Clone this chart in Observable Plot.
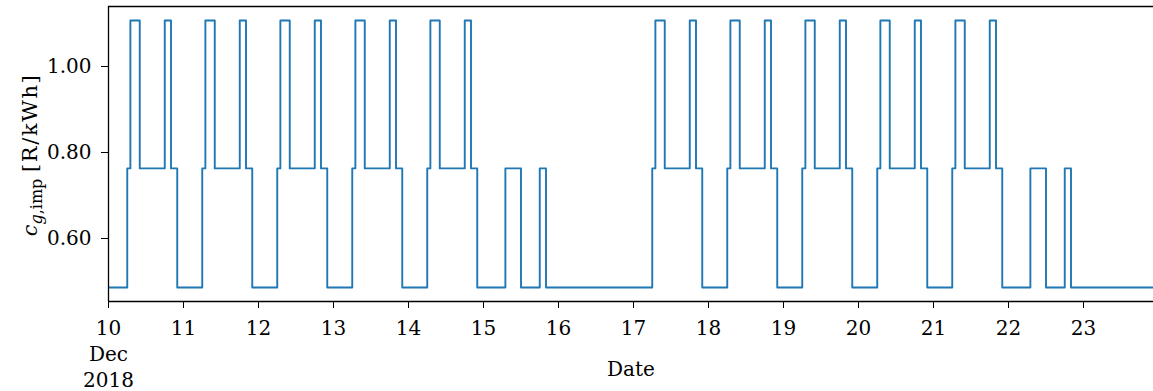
<!DOCTYPE html>
<html><head><meta charset="utf-8">
<script src="https://cdn.jsdelivr.net/npm/d3@7"></script>
<script src="https://cdn.jsdelivr.net/npm/@observablehq/plot@0.6"></script>
<style>body{margin:0;background:#fff;overflow:hidden} svg{display:block}</style>
</head><body><div id="chart"></div>
<script>
// Tariff change points (UTC hours) and the import tariff that applies from each point on [R/kWh]
const changeTimes = [
  "2018-12-10T00:00","2018-12-10T06:00","2018-12-10T07:00","2018-12-10T10:00","2018-12-10T18:00","2018-12-10T20:00","2018-12-10T22:00",
  "2018-12-11T06:00","2018-12-11T07:00","2018-12-11T10:00","2018-12-11T18:00","2018-12-11T20:00","2018-12-11T22:00",
  "2018-12-12T06:00","2018-12-12T07:00","2018-12-12T10:00","2018-12-12T18:00","2018-12-12T20:00","2018-12-12T22:00",
  "2018-12-13T06:00","2018-12-13T07:00","2018-12-13T10:00","2018-12-13T18:00","2018-12-13T20:00","2018-12-13T22:00",
  "2018-12-14T06:00","2018-12-14T07:00","2018-12-14T10:00","2018-12-14T18:00","2018-12-14T20:00","2018-12-14T22:00",
  "2018-12-15T07:00","2018-12-15T12:00","2018-12-15T18:00","2018-12-15T20:00",
  "2018-12-17T06:00","2018-12-17T07:00","2018-12-17T10:00","2018-12-17T18:00","2018-12-17T20:00","2018-12-17T22:00",
  "2018-12-18T06:00","2018-12-18T07:00","2018-12-18T10:00","2018-12-18T18:00","2018-12-18T20:00","2018-12-18T22:00",
  "2018-12-19T06:00","2018-12-19T07:00","2018-12-19T10:00","2018-12-19T18:00","2018-12-19T20:00","2018-12-19T22:00",
  "2018-12-20T06:00","2018-12-20T07:00","2018-12-20T10:00","2018-12-20T18:00","2018-12-20T20:00","2018-12-20T22:00",
  "2018-12-21T06:00","2018-12-21T07:00","2018-12-21T10:00","2018-12-21T18:00","2018-12-21T20:00","2018-12-21T22:00",
  "2018-12-22T07:00","2018-12-22T12:00","2018-12-22T18:00","2018-12-22T20:00",
  "2018-12-23T23:00"
];
const changeValues = [
  0.486,0.763,1.107,0.763,1.107,0.763,0.486,
  0.763,1.107,0.763,1.107,0.763,0.486,
  0.763,1.107,0.763,1.107,0.763,0.486,
  0.763,1.107,0.763,1.107,0.763,0.486,
  0.763,1.107,0.763,1.107,0.763,0.486,
  0.763,0.486,0.763,0.486,
  0.763,1.107,0.763,1.107,0.763,0.486,
  0.763,1.107,0.763,1.107,0.763,0.486,
  0.763,1.107,0.763,1.107,0.763,0.486,
  0.763,1.107,0.763,1.107,0.763,0.486,
  0.763,1.107,0.763,1.107,0.763,0.486,
  0.763,0.486,0.763,0.486,
  0.486
];
const yTicks = [0.60, 0.80, 1.00];
const xTickDays = ["2018-12-10","2018-12-11","2018-12-12","2018-12-13","2018-12-14","2018-12-15","2018-12-16",
                   "2018-12-17","2018-12-18","2018-12-19","2018-12-20","2018-12-21","2018-12-22","2018-12-23"];
const xDomain = ["2018-12-10T00:00", "2018-12-23T22:24"];
const yDomain = [0.4535, 1.1395];
const xLabel = "Date";
const yLabelMain = "c", yLabelSubItalic = "g", yLabelSub = ",imp", yLabelUnit = "[R/kWh]";

const data = changeTimes.map((t, i) => ({date: new Date(t + "Z"), value: changeValues[i]}));
const xTicks = xTickDays.map(d => new Date(d + "T00:00Z"));
const xDom = xDomain.map(d => new Date(d + "Z"));
const dayFmt = d3.utcFormat("%-d"), monFmt = d3.utcFormat("%b"), yrFmt = d3.utcFormat("%Y");

const chart = Plot.plot({
  width: 1153, height: 391,
  marginLeft: 108, marginRight: 0, marginTop: 6, marginBottom: 90,
  style: {fontFamily: "'DejaVu Serif', serif", fontSize: "20px", color: "#000", background: "#fff"},
  x: {type: "utc", domain: xDom, label: null},
  y: {domain: yDomain, label: null},
  marks: [
    Plot.line(data, {x: "date", y: "value", curve: "step-after", stroke: "#1f77b4", strokeWidth: 1.9, clip: true}),
    Plot.ruleX([xDom[0]], {stroke: "#000", strokeWidth: 1.3}),
    Plot.ruleY(yDomain, {stroke: "#000", strokeWidth: 1.3}),
    Plot.axisX({
      ticks: xTicks,
      tickFormat: d => d.getTime() === xTicks[0].getTime() ? `${dayFmt(d)}\n${monFmt(d)}\n${yrFmt(d)}` : dayFmt(d),
      tickSize: 7, tickPadding: 8, lineHeight: 1.3, label: null
    }),
    Plot.axisY({ticks: yTicks, tickFormat: d3.format(".2f"), tickSize: 7, tickPadding: 10, label: null})
  ]
});
document.getElementById("chart").append(chart);

const svg = d3.select(chart);
const yl = svg.append("text")
  .attr("transform", "translate(37,155) rotate(-90)")
  .attr("text-anchor", "middle")
  .attr("font-family", "'DejaVu Serif', serif")
  .attr("font-size", 21)
  .attr("fill", "#000");
yl.append("tspan").attr("font-style", "italic").text(yLabelMain);
yl.append("tspan").attr("font-size", 16).attr("dy", 5).attr("font-style", "italic").text(yLabelSubItalic);
yl.append("tspan").attr("font-size", 16).text(yLabelSub);
yl.append("tspan").attr("dy", -5).text(" ");
yl.append("tspan").attr("letter-spacing", 1.6).text(yLabelUnit);

svg.append("text")
  .attr("x", 631).attr("y", 376)
  .attr("text-anchor", "middle")
  .attr("font-family", "'DejaVu Serif', serif")
  .attr("font-size", 20)
  .attr("fill", "#000")
  .text(xLabel);
</script>
</body></html>
